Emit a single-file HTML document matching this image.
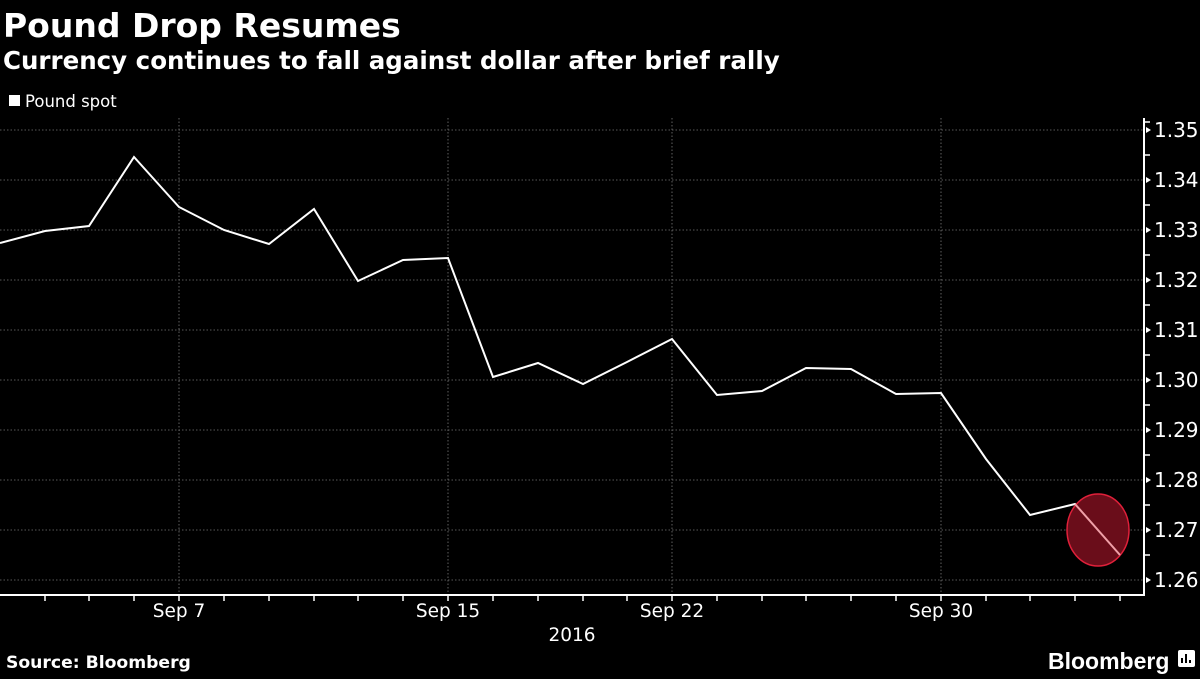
<!DOCTYPE html>
<html><head><style>
body{margin:0;background:#000;width:1200px;height:675px;overflow:hidden;font-family:"DejaVu Sans","Liberation Sans",sans-serif;}
</style></head><body>
<svg width="1200" height="675" xmlns="http://www.w3.org/2000/svg">
<rect width="1200" height="675" fill="#000"/>
<text x="3" y="37" fill="#fff" font-size="33" font-weight="bold" font-family="DejaVu Sans, sans-serif">Pound Drop Resumes</text>
<text x="3" y="69" fill="#fff" font-size="24.5" font-weight="bold" font-family="DejaVu Sans, sans-serif">Currency continues to fall against dollar after brief rally</text>
<rect x="9" y="95" width="11" height="11" fill="#fff"/>
<text x="25" y="107" fill="#fff" font-size="16.5" font-family="DejaVu Sans, sans-serif">Pound spot</text>
<g stroke="#777" stroke-dasharray="1.5,2" stroke-width="0.8">
<line x1="0" y1="130" x2="1144" y2="130"/><line x1="0" y1="180" x2="1144" y2="180"/><line x1="0" y1="230" x2="1144" y2="230"/><line x1="0" y1="280" x2="1144" y2="280"/><line x1="0" y1="330" x2="1144" y2="330"/><line x1="0" y1="380" x2="1144" y2="380"/><line x1="0" y1="430" x2="1144" y2="430"/><line x1="0" y1="480" x2="1144" y2="480"/><line x1="0" y1="530" x2="1144" y2="530"/><line x1="0" y1="580" x2="1144" y2="580"/>
<line x1="179" y1="118" x2="179" y2="595"/><line x1="448" y1="118" x2="448" y2="595"/><line x1="672" y1="118" x2="672" y2="595"/><line x1="941" y1="118" x2="941" y2="595"/>
</g>
<g stroke="#fff" stroke-width="2">
<line x1="0" y1="595" x2="1145" y2="595"/><line x1="1144" y1="118" x2="1144" y2="596"/>
</g>
<g stroke="#fff" stroke-width="1.5">
<line x1="45" y1="595" x2="45" y2="601"/><line x1="89" y1="595" x2="89" y2="601"/><line x1="134" y1="595" x2="134" y2="601"/><line x1="179" y1="595" x2="179" y2="601"/><line x1="224" y1="595" x2="224" y2="601"/><line x1="269" y1="595" x2="269" y2="601"/><line x1="314" y1="595" x2="314" y2="601"/><line x1="358" y1="595" x2="358" y2="601"/><line x1="403" y1="595" x2="403" y2="601"/><line x1="448" y1="595" x2="448" y2="601"/><line x1="493" y1="595" x2="493" y2="601"/><line x1="538" y1="595" x2="538" y2="601"/><line x1="583" y1="595" x2="583" y2="601"/><line x1="627" y1="595" x2="627" y2="601"/><line x1="672" y1="595" x2="672" y2="601"/><line x1="717" y1="595" x2="717" y2="601"/><line x1="762" y1="595" x2="762" y2="601"/><line x1="806" y1="595" x2="806" y2="601"/><line x1="851" y1="595" x2="851" y2="601"/><line x1="896" y1="595" x2="896" y2="601"/><line x1="941" y1="595" x2="941" y2="601"/><line x1="986" y1="595" x2="986" y2="601"/><line x1="1030" y1="595" x2="1030" y2="601"/><line x1="1075" y1="595" x2="1075" y2="601"/><line x1="1120" y1="595" x2="1120" y2="601"/>
<line x1="1144" y1="122" x2="1150" y2="122"/>
<line x1="1144" y1="155" x2="1150" y2="155"/><line x1="1144" y1="205" x2="1150" y2="205"/><line x1="1144" y1="255" x2="1150" y2="255"/><line x1="1144" y1="305" x2="1150" y2="305"/><line x1="1144" y1="355" x2="1150" y2="355"/><line x1="1144" y1="405" x2="1150" y2="405"/><line x1="1144" y1="455" x2="1150" y2="455"/><line x1="1144" y1="505" x2="1150" y2="505"/><line x1="1144" y1="555" x2="1150" y2="555"/>
</g>
<g fill="#fff">
<path d="M1146 127 L1151 130 L1146 133Z"/><path d="M1146 177 L1151 180 L1146 183Z"/><path d="M1146 227 L1151 230 L1146 233Z"/><path d="M1146 277 L1151 280 L1146 283Z"/><path d="M1146 327 L1151 330 L1146 333Z"/><path d="M1146 377 L1151 380 L1146 383Z"/><path d="M1146 427 L1151 430 L1146 433Z"/><path d="M1146 477 L1151 480 L1146 483Z"/><path d="M1146 527 L1151 530 L1146 533Z"/><path d="M1146 577 L1151 580 L1146 583Z"/>
</g>
<g fill="#fff" font-size="20" font-family="DejaVu Sans, sans-serif">
<text x="1154" y="137">1.35</text><text x="1154" y="187">1.34</text><text x="1154" y="237">1.33</text><text x="1154" y="287">1.32</text><text x="1154" y="337">1.31</text><text x="1154" y="387">1.30</text><text x="1154" y="437">1.29</text><text x="1154" y="487">1.28</text><text x="1154" y="537">1.27</text><text x="1154" y="587">1.26</text>
</g>
<g fill="#fff" font-size="18.5" font-family="DejaVu Sans, sans-serif" text-anchor="middle">
<text x="179" y="617">Sep 7</text><text x="448" y="617">Sep 15</text><text x="672" y="617">Sep 22</text><text x="941" y="617">Sep 30</text><text x="572" y="641">2016</text>
</g>
<polyline fill="none" stroke="#fff" stroke-width="2" points="0,243 45,231 89,226 134,157 179,207 224,230 269,244 314,209 358,281 403,260 448,258 493,377 538,363 583,384 627,362 672,339 717,395 762,391 806,368 851,369 896,394 941,393 986,459 1030,515 1075,504 1120,555"/>
<ellipse cx="1098" cy="530" rx="31" ry="36" fill="#6a0d1a" stroke="#e0203a" stroke-width="1.5"/>
<line x1="1075" y1="504" x2="1120" y2="555" stroke="#f0a0a8" stroke-width="2"/>
<text x="6" y="668" fill="#fff" font-size="17.2" font-weight="bold" font-family="DejaVu Sans, sans-serif">Source: Bloomberg</text>
<text x="1048" y="669" fill="#fff" font-size="23" font-weight="bold" font-family="Liberation Sans, sans-serif">Bloomberg</text>
<rect x="1178" y="650" width="17" height="17" rx="2" fill="#fff"/>
<g stroke="#000" stroke-width="2"><line x1="1182" y1="663" x2="1182" y2="658"/><line x1="1186" y1="663" x2="1186" y2="654"/><line x1="1190" y1="663" x2="1190" y2="660"/></g>
</svg>
</body></html>
